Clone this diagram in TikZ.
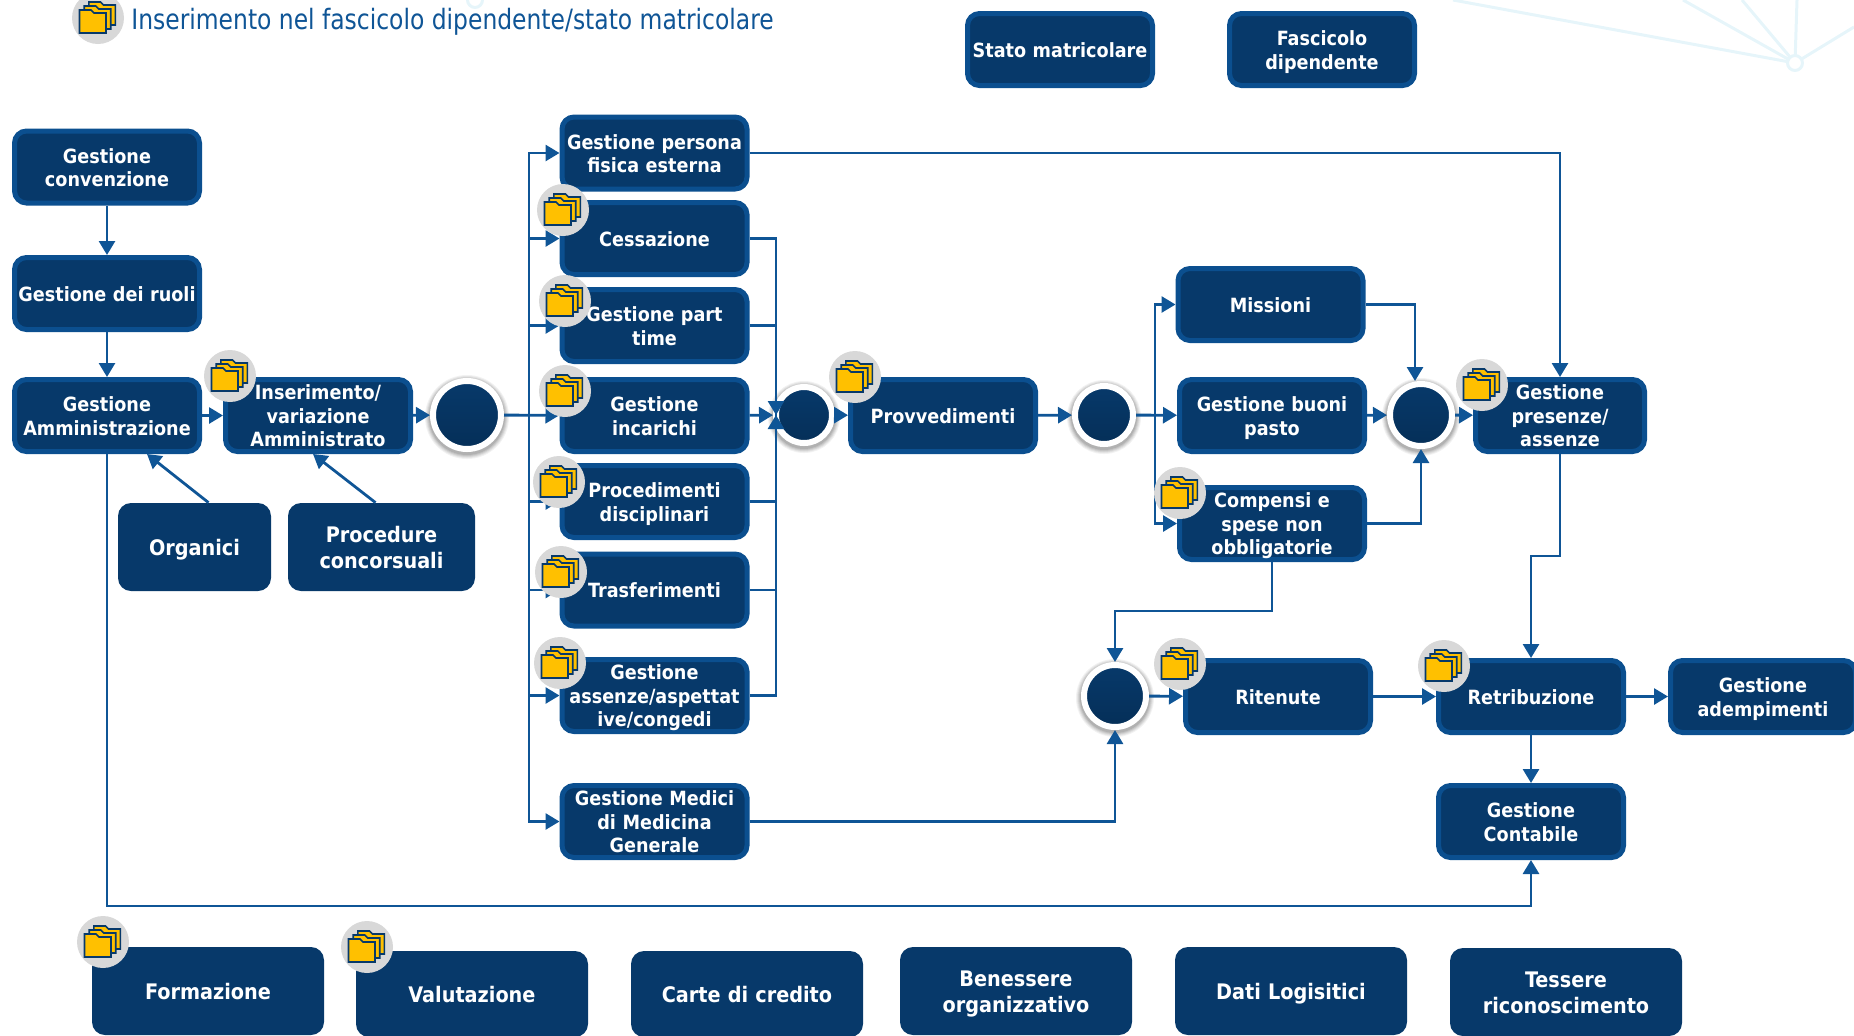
\documentclass[tikz,border=0pt]{standalone}
\usepackage{fontspec}
\setmainfont{DejaVu Sans Condensed}
\newfontfamily\legendfont[FakeStretch=0.93]{DejaVu Sans Condensed}
\usetikzlibrary{arrows.meta}

\definecolor{boxfill}{HTML}{07396A}
\definecolor{boxline}{HTML}{0B4F8F}
\definecolor{boxdark}{HTML}{052F58}
\definecolor{flowcol}{HTML}{0F5596}
\definecolor{iconbg}{HTML}{D8D8D8}
\definecolor{foldercol}{HTML}{FFC000}
\definecolor{netcol}{HTML}{E6F5FA}

\newcommand{\tstrut}{\rule{0pt}{1.02em}}
\newcommand{\bstrut}{\rule[-0.22em]{0pt}{0.22em}}

\tikzset{
  box/.style={draw=boxline, fill=boxfill, line width=2.5pt, rounded corners=6pt, inner sep=0pt,
    text width=92.5pt, minimum height=36pt, align=center, text=white,
    font=\fontsize{9.8}{11.8}\selectfont\bfseries,
    execute at begin node=\tstrut, execute at end node=\bstrut},
  bigbox/.style={draw=none, fill=boxfill, rounded corners=6.5pt, inner sep=0pt,
    text width=116pt, minimum height=44pt, align=center, text=white,
    font=\fontsize{10.7}{13}\selectfont\bfseries,
    execute at begin node=\tstrut, execute at end node=\bstrut},
  junction/.style={circle, top color=boxfill, middle color=boxfill, bottom color=boxdark, draw=white, line width=3pt, inner sep=0pt,
    preaction={draw=black, draw opacity=0.05, line width=8pt, transform canvas={yshift=-1pt}},
    preaction={draw=black, draw opacity=0.06, line width=7pt, transform canvas={yshift=-1pt}},
    preaction={draw=black, draw opacity=0.07, line width=6pt, transform canvas={yshift=-1pt}},
    preaction={draw=black, draw opacity=0.08, line width=5pt, transform canvas={yshift=-1pt}},
    preaction={draw=black, draw opacity=0.09, line width=4pt, transform canvas={yshift=-1pt}}},
  flow/.style={draw=flowcol, line width=1.4pt, -{Triangle[length=7pt,width=8pt]}},
  bus/.style={draw=flowcol, line width=1.4pt},
  folder/.pic={
    \fill[iconbg] (0,0) circle (26);
    \foreach \d in {2,1,0} {
      \draw[fill=foldercol, draw=boxfill, line width=0.8pt] (-18.5+\d*4.7,15-\d*4) -- (-18.5+\d*4.7,-8-\d*4) -- (-7+\d*4.7,-8-\d*4)
        -- (-4+\d*4.7,-5-\d*4) -- (8+\d*4.7,-5-\d*4) -- (8+\d*4.7,15-\d*4) -- cycle;
    }
  }
}

\begin{document}
\begin{tikzpicture}[x=0.5pt, y=-0.5pt]
  \useasboundingbox (0,0) rectangle (1854,1035);

  % faint lines behind the top corners
  \draw[netcol, line width=1.5pt] (1795,63) -- (1453,0);
  \draw[netcol, line width=1.5pt] (1795,63) -- (1683,0);
  \draw[netcol, line width=1.5pt] (1795,63) -- (1742,0);
  \draw[netcol, line width=1.5pt] (1795,63) -- (1797,0);
  \draw[netcol, line width=1.5pt] (1795,63) -- (1854,27);
  \draw[netcol, line width=1.5pt, fill=white] (1795,63) circle (7.5);
  \draw[netcol, line width=1.5pt] (475,0) circle (7.5);

  \node[text=flowcol, anchor=west, inner sep=0pt, font=\fontsize{14}{16}\selectfont\legendfont] (legend) at (131,22) {Inserimento nel fascicolo dipendente/stato matricolare};

  \node[box] (stato) at (1060,49.5) {Stato matricolare};
  \node[box] (fasc) at (1322,49.5) {Fascicolo\\dipendente};

  \node[box] (conv) at (107,167) {Gestione\\convenzione};
  \node[box] (ruoli) at (107,293.5) {Gestione dei ruoli};
  \node[box] (amm) at (107,415.5) {Gestione\\Amministrazione};
  \node[box] (ins) at (318,415.5) {Inserimento/\\variazione\\Amministrato};
  \node[bigbox, text width=76.5pt] (organici) at (194.5,547) {Organici};
  \node[bigbox, text width=93.5pt] (procedure) at (381.5,547) {Procedure\\concorsuali};

  \node[junction, minimum size=34pt] (c1) at (467,415) {};

  \node[box] (persona) at (654.5,153) {Gestione persona\\fisica esterna};
  \node[box] (cess) at (654.5,238.5) {Cessazione};
  \node[box] (part) at (654.5,325.5) {Gestione part\\time};
  \node[box] (inc) at (654.5,415.5) {Gestione\\incarichi};
  \node[box] (disc) at (654.5,501.5) {Procedimenti\\disciplinari};
  \node[box] (trasf) at (654.5,590) {Trasferimenti};
  \node[box] (ass) at (654.5,695.5) {Gestione\\assenze/aspettat\\ive/congedi};
  \node[box] (medici) at (654.5,821.5) {Gestione Medici\\di Medicina\\Generale};

  \node[junction, minimum size=28pt] (c2) at (804,415) {};
  \node[box] (prov) at (943,415.5) {Provvedimenti};
  \node[junction, minimum size=29pt] (c3) at (1104,415) {};

  \node[box] (missioni) at (1270.5,304.5) {Missioni};
  \node[box] (buoni) at (1272,415.5) {Gestione buoni\\pasto};
  \node[box] (comp) at (1272,523.5) {Compensi e\\spese non\\obbligatorie};
  \node[junction, minimum size=31pt] (c4) at (1421,415) {};
  \node[box, text width=84.5pt] (presenze) at (1560,415.5) {Gestione\\presenze/\\assenze};

  \node[junction, minimum size=31pt] (c5) at (1115,696) {};
  \node[box] (ritenute) at (1278,696.5) {Ritenute};
  \node[box] (retrib) at (1531,696.5) {Retribuzione};
  \node[box] (adem) at (1763,696.5) {Gestione\\adempimenti};
  \node[box] (contab) at (1531,821.5) {Gestione\\Contabile};

  \node[bigbox] (form) at (208,991) {Formazione};
  \node[bigbox, minimum height=43pt] (valut) at (472,994) {Valutazione};
  \node[bigbox, minimum height=43pt] (carte) at (747,994) {Carte di credito};
  \node[bigbox] (benes) at (1016,991) {Benessere\\organizzativo};
  \node[bigbox] (dati) at (1291,991) {Dati Logisitici};
  \node[bigbox] (tess) at (1566,992) {Tessere\\riconoscimento};

  \coordinate (busa) at (529,415);
  \coordinate (busb) at (776,415);
  \coordinate (busc) at (1155,415);

  \draw[flow] (conv) -- (ruoli);
  \draw[flow] (ruoli) -- (amm);
  \draw[flow] (amm) -- (ins);
  \draw[flow] (ins) -- (c1);
  \draw[flow] ([xshift=7pt]organici.north) -- ([xshift=20pt]amm.south);
  \draw[flow] ([xshift=-3pt]procedure.north) -- ([xshift=-2.5pt]ins.south);

  \draw[flow] (c1) -- (inc);
  \draw[flow] (busa) |- (persona.west);
  \draw[flow] (busa) |- (cess.west);
  \draw[flow] (busa) |- (part.west);
  \draw[flow] (busa) |- (disc.west);
  \draw[flow] (busa) |- (trasf.west);
  \draw[flow] (busa) |- (ass.west);
  \draw[flow] (busa) |- (medici.west);

  \draw[flow] (cess.east) -| (busb);
  \draw[flow] (ass.east) -| (busb);
  \draw[bus] (part.east) -| (busb);
  \draw[bus] (disc.east) -| (busb);
  \draw[bus] (trasf.east) -| (busb);
  \draw[flow] (inc) -- (c2);
  \draw[flow] (c2) -- (prov);
  \draw[flow] (prov) -- (c3);

  \draw[flow] (c3) -- (buoni);
  \draw[flow] (busc) |- (missioni.west);
  \draw[flow] (busc) |- (comp.west);
  \draw[flow] (missioni.east) -| ([xshift=-3pt]c4.north);
  \draw[flow] (buoni) -- (c4);
  \draw[flow] (comp.east) -| (c4.south);
  \draw[flow] (c4) -- (presenze);
  \draw[flow] (persona.east) -| (presenze.north);

  \draw[flow] (presenze.south) -- ++(0,102) -| (retrib.north);
  \draw[flow] (comp.south) -- ++(0,49) -| (c5.north);
  \draw[flow] (medici.east) -| (c5.south);
  \draw[flow] (c5) -- (ritenute);
  \draw[flow] (ritenute) -- (retrib);
  \draw[flow] (retrib) -- (adem);
  \draw[flow] (retrib) -- (contab);
  \draw[flow] (amm.south) -- ++(0,452) -| (contab.south);

  % folder marks
  \pic at (98,18) {folder};
  \pic at (230,376) {folder};
  \pic at (563,210) {folder};
  \pic at (565,301) {folder};
  \pic at (565,391) {folder};
  \pic at (559,482) {folder};
  \pic at (561,572) {folder};
  \pic at (560,663) {folder};
  \pic at (855,377) {folder};
  \pic at (1180,493) {folder};
  \pic at (1482,385) {folder};
  \pic at (1180,664) {folder};
  \pic at (1444,666) {folder};
  \pic at (103,942) {folder};
  \pic at (367,947) {folder};
\end{tikzpicture}
\end{document}
